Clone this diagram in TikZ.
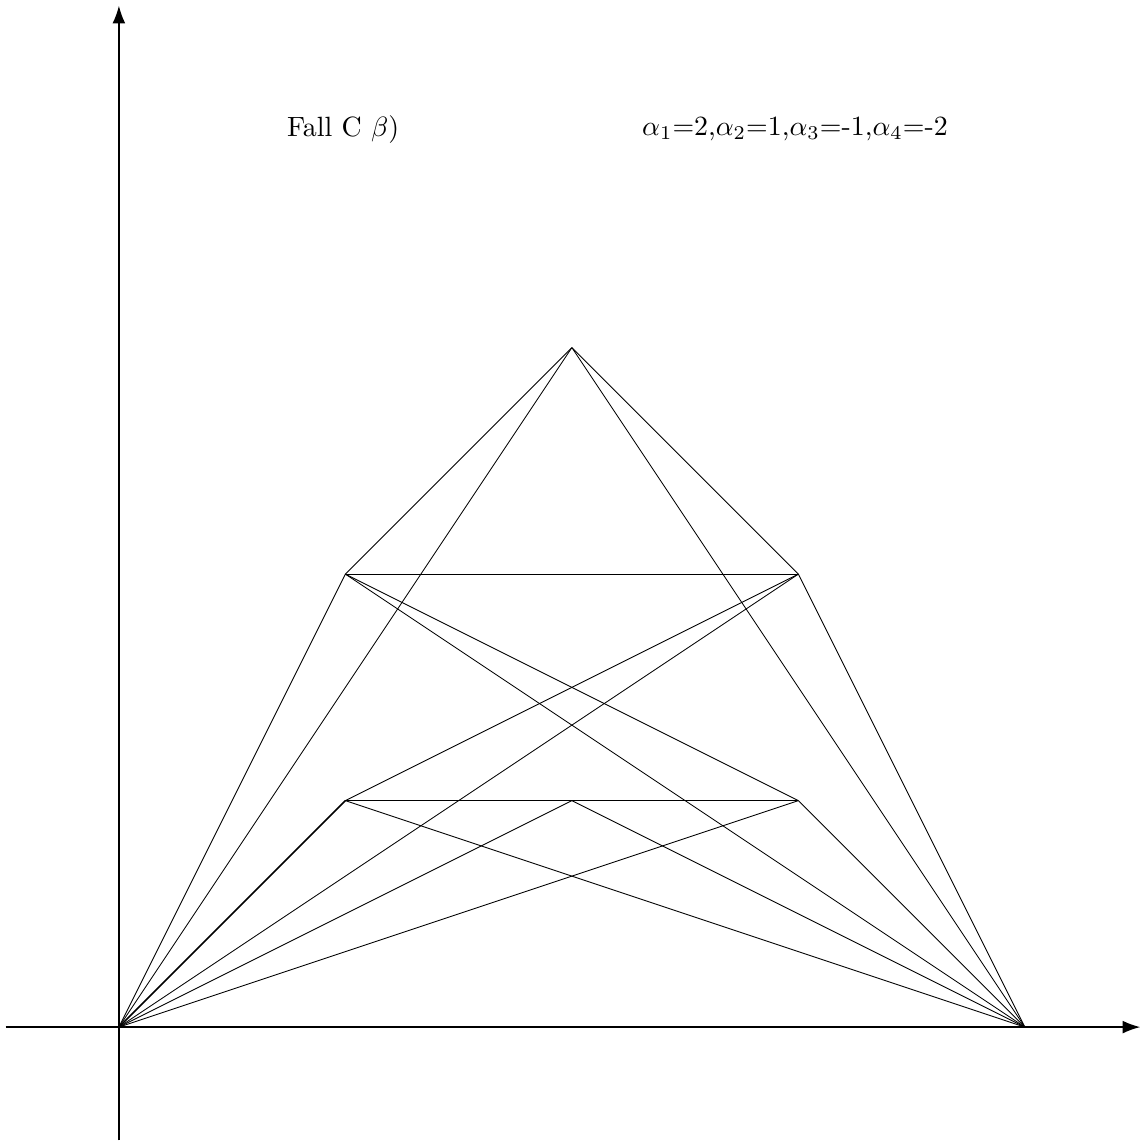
\documentclass[tikz,border=0pt]{standalone}
\usepackage{amsmath}
\usetikzlibrary{arrows.meta}

\begin{document}
\begin{tikzpicture}[x=2.8cm,y=2.8cm, every node/.style={font=\normalsize,scale=0.98},
  axis/.style={line width=0.6pt,-{Latex[length=2.2mm,width=1.6mm]}},
  edge/.style={line width=0.3pt},
  heavy/.style={line width=0.55pt}]
\useasboundingbox (-0.525,-0.51) rectangle (4.535,4.535);
% axes
\coordinate (xl) at (-0.5,0); \coordinate (xr) at (4.51,0);
\coordinate (yb) at (0,-0.5); \coordinate (yt) at (0,4.51);
\draw[axis] (xl)--(xr); \draw[axis] (yb)--(yt);
% points
\coordinate (o) at (0,0); \coordinate (r) at (4,0);
\coordinate (t) at (2,3);
\coordinate (a) at (1,2); \coordinate (b) at (3,2);
\coordinate (c) at (1,1); \coordinate (d) at (2,1); \coordinate (e) at (3,1);
% labels
\node (fall) at (0.99,3.965) {Fall C $\beta$)};
\node (alph) at (2.985,3.965) {$\alpha_1$=2,$\alpha_2$=1,$\alpha_3$=-1,$\alpha_4$=-2};
% top
\draw[edge] (t)--(a); \draw[edge] (t)--(b); \draw[edge] (t)--(o); \draw[edge] (t)--(r);
% upper level
\draw[edge] (a)--(b); \draw[edge] (a)--(o); \draw[edge] (b)--(r);
\draw[edge] (a)--(e); \draw[edge] (a)--(r); \draw[edge] (b)--(c); \draw[edge] (b)--(o);
% lower level
\draw[edge] (c)--(e); \draw[heavy] (c)--(o); \draw[edge] (c)--(r);
\draw[edge] (d)--(o); \draw[edge] (d)--(r);
\draw[edge] (e)--(o); \draw[edge] (e)--(r);
\end{tikzpicture}
\end{document}
